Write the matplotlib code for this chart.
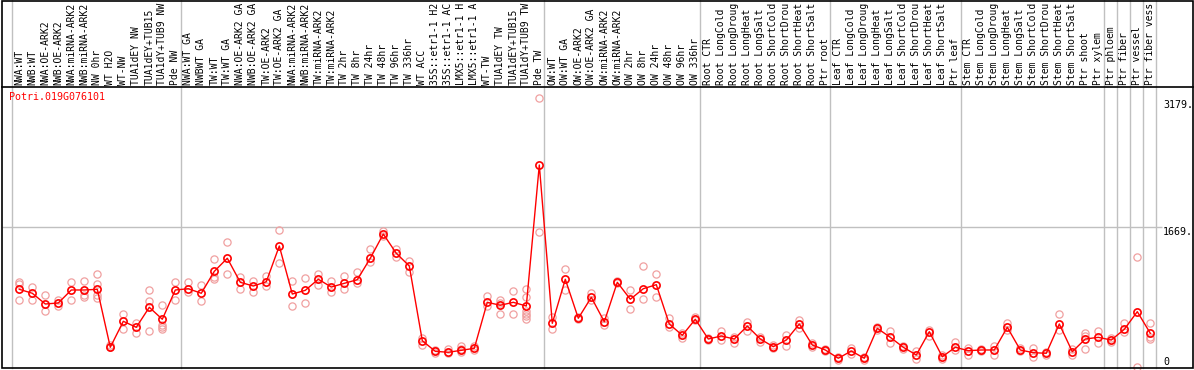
import matplotlib
matplotlib.use('Agg')
import matplotlib.pyplot as plt
import matplotlib.transforms as mtransforms
from matplotlib.patches import Rectangle

plt.rcParams['font.family'] = ['DejaVu Sans Mono']

gene = 'Potri.019G076101'

labels = ['NWA:WT', 'NWB:WT', 'NWA:OE-ARK2', 'NWB:OE-ARK2', 'NWA:miRNA-ARK2',
          'NWB:miRNA-ARK2', 'NW 0hr', 'WT H2O', 'WT-NW', 'TUA1dEY NW',
          'TUA1dEY+TUB15', 'TUA1dY+TUB9 NW', 'Pde NW',
          'NWA:WT GA', 'NWBWT GA', 'TW:WT', 'TW:WT GA', 'NWA:OE-ARK2 GA',
          'NWB:OE-ARK2 GA', 'TW:OE-ARK2', 'TW:OE-ARK2 GA', 'NWA:miRNA-ARK2',
          'NWB:miRNA-ARK2', 'TW:miRNA-ARK2', 'TW:miRNA-ARK2', 'TW 2hr', 'TW 8hr',
          'TW 24hr', 'TW 48hr', 'TW 96hr', 'TW 336hr', 'WT ACC',
          '35S::etr1-1 H2', '35S::etr1-1 AC', 'LMX5::etr1-1 H',
          'LMX5::etr1-1 A', 'WT-TW', 'TUA1dEY TW', 'TUA1dEY+TUB15',
          'TUA1dY+TUB9 TW', 'Pde TW',
          'OW:WT', 'OW:WT GA', 'OW:OE-ARK2', 'OW:OE-ARK2 GA', 'OW:miRNA-ARK2',
          'OW:miRNA-ARK2', 'OW 2hr', 'OW 8hr', 'OW 24hr', 'OW 48hr', 'OW 96hr',
          'OW 336hr',
          'Root CTR', 'Root LongCold', 'Root LongDroug', 'Root LongHeat',
          'Root LongSalt', 'Root ShortCold', 'Root ShortDrou', 'Root ShortHeat',
          'Root ShortSalt', 'Ptr root',
          'Leaf CTR', 'Leaf LongCold', 'Leaf LongDroug', 'Leaf LongHeat',
          'Leaf LongSalt', 'Leaf ShortCold', 'Leaf ShortDrou', 'Leaf ShortHeat',
          'Leaf ShortSalt', 'Ptr leaf',
          'Stem CTR', 'Stem LongCold', 'Stem LongDroug', 'Stem LongHeat',
          'Stem LongSalt', 'Stem ShortCold', 'Stem ShortDrou', 'Stem ShortHeat',
          'Stem ShortSalt', 'Ptr shoot', 'Ptr xylem', 'Ptr phloem', 'Ptr fiber',
          'Ptr vessel', 'Ptr fiber vess']

means = [936, 889, 762, 774, 928, 928, 936, 249, 557, 486, 723, 581, 928,
         943, 889, 1149, 1304, 1019, 975, 1026, 1449, 880, 924, 1055, 963, 1007,
         1050, 1304, 1591, 1363, 1212, 327, 201, 190, 213, 237, 782, 747, 782,
         738, 2409,
         533, 1055, 593, 841, 552, 1019, 818, 943, 991, 525, 391, 581,
         347, 383, 347, 501, 347, 256, 335, 525, 276, 217,
         119, 205, 119, 474, 367, 249, 158, 434, 137, 249,
         209, 217, 217, 486, 217, 185, 178, 525, 197, 347, 367, 335, 462, 671, 415]

reps = [[1026, 995, 809], [967, 809], [865, 675], [809, 742], [1023, 809],
        [1038, 869, 841], [1114, 999, 869, 830], [273, 249], [643, 462],
        [540, 422], [924, 801, 442], [750, 513, 486, 462], [1019, 809],
        [1023, 908], [984, 801], [1299, 1078, 1055], [1500, 1114], [1085, 943],
        [1038, 901], [1094, 975], [1244, 1639], [1031, 738], [1070, 770],
        [1117, 987], [1031, 901], [1094, 936], [1138, 1007], [1410, 1263],
        [1627, 1568], [1414, 1319], [1275, 1141], [355, 276], [217, 178],
        [232, 178], [264, 232, 197], [261, 217], [857, 738], [809, 777, 643],
        [912, 643], [936, 841, 683, 643, 620, 588], [3200, 1619],
        [604, 462], [1177, 928], [611, 581], [896, 809], [593, 513],
        [1038, 1007], [928, 699], [1212, 818], [1117, 841], [593, 493],
        [415, 355], [604, 572],
        [355, 335], [446, 335], [374, 303], [552, 446], [374, 312], [276, 237],
        [395, 264], [572, 478], [296, 249], [229, 205],
        [137, 98], [237, 169], [134, 98], [493, 454], [446, 296], [264, 225],
        [209, 110], [454, 383], [158, 110], [312, 217],
        [237, 158], [229, 205], [264, 158], [540, 454], [237, 205], [237, 137],
        [197, 158], [643, 454], [225, 158], [415, 383, 229], [446, 303],
        [355, 315], [533, 434], [1315, 12], [533, 374, 344]]

# columns after which a separator is drawn
group_ends = [-1, 12, 40, 52, 62, 72, 83, 84, 85, 86, 87]

y_top = 3338
y_mid = 1669
y_max_label = 3179

W, H = 1194, 370
fig = plt.figure(figsize=(W / 100, H / 100), dpi=100)
fig.patch.set_facecolor('white')

px_left, px_right, px_top, px_bottom = 1.5, 1193, 86.6, 368.3
ax = fig.add_axes([px_left / W, (H - px_bottom) / H,
                   (px_right - px_left) / W, (px_bottom - px_top) / H])
x0, step = 19.3, 13.0
ax.set_xlim((px_left - x0) / step, (px_right - x0) / step)
ax.set_ylim(0, y_top)
ax.axis('off')

xs = list(range(len(means)))
pink = '#f0a0a0'
red = '#ff0000'

# separators, running through the header too
ext = px_bottom / (px_bottom - px_top)
for g in group_ends:
    ax.axvline(g + 0.4, ymin=0, ymax=ext, color='#c0c0c0', lw=1, clip_on=False, zorder=1)

text_x = (1163 - x0) / step
ax.hlines(y_mid, (px_left - x0) / step, text_x - 0.1, color='#c0c0c0', lw=1, zorder=1)

for i, r in enumerate(reps):
    ax.plot([i] * len(r), r, 'o', ms=5.2, mfc='none', mec=pink, mew=0.9,
            zorder=2, clip_on=False)
ax.plot(xs, means, '-', color=red, lw=1, zorder=3)
ax.plot(xs, means, 'o', ms=5.2, mfc='none', mec=red, mew=1.2, zorder=4)

trans = mtransforms.blended_transform_factory(ax.transData, ax.transAxes)
for i, lab in enumerate(labels):
    ax.text(i, 1.006, lab, rotation=90, ha='center', va='bottom', fontsize=7.0,
            transform=trans, clip_on=False)

ax.text(text_x, y_max_label, '%d.' % y_max_label, ha='left', va='top', fontsize=7.2)
ax.text(text_x, y_mid, '%d.' % y_mid, ha='left', va='top', fontsize=7.2)
ax.text(text_x, 10, '0', ha='left', va='bottom', fontsize=7.2)

fig.text(9.3 / W, 1 - 97.3 / H, gene, color=red, ha='left', va='center', fontsize=7.2)

# frame and header line
fig.add_artist(Rectangle((px_left / W, (H - px_bottom) / H),
                         (px_right - px_left) / W, (px_bottom - 0.5) / H,
                         transform=fig.transFigure, fill=False, ec='black', lw=1.2))
fig.add_artist(plt.Line2D([px_left / W, px_right / W], [1 - px_top / H] * 2,
                          transform=fig.transFigure, color='black', lw=1.2))

fig.savefig('out.png', dpi=100)
